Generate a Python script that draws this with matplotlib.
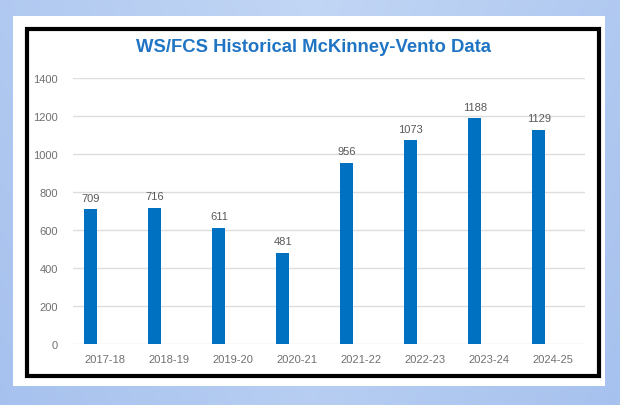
import numpy as np
import matplotlib
matplotlib.use("Agg")
import matplotlib.pyplot as plt
from matplotlib.patches import Rectangle

years = ["2017-18", "2018-19", "2019-20", "2020-21", "2021-22", "2022-23", "2023-24", "2024-25"]
students = [709, 716, 611, 481, 956, 1073, 1188, 1129]
y_ticks = [0, 200, 400, 600, 800, 1000, 1200, 1400]

plt.rcParams['font.family'] = ['Liberation Sans', 'DejaVu Sans']

fig = plt.figure(figsize=(6.2, 4.06), dpi=100)

# blue gradient background
bg = fig.add_axes([0, 0, 1, 1])
gx, gy = np.meshgrid(np.linspace(-1, 1, 200), np.linspace(0, 1, 120))
t = np.clip(1 - 0.55 * np.abs(gx) - 0.35 * gy, 0, 1)
c0 = np.array([0.64, 0.75, 0.93])
c1 = np.array([0.76, 0.84, 0.96])
img = c0 + (c1 - c0) * t[..., None]
bg.imshow(img, extent=[0, 1, 0, 1], aspect='auto', origin='upper')
bg.set_xlim(0, 1)
bg.set_ylim(0, 1)
bg.axis('off')

# white card and black frame
fig.patches.append(Rectangle((0.021, 0.047), 0.955, 0.911, transform=fig.transFigure,
                             facecolor='white', edgecolor='none', zorder=1))
fig.patches.append(Rectangle((0.0435, 0.0714), 0.9225, 0.8546, transform=fig.transFigure,
                             facecolor='white', edgecolor='black', linewidth=3, zorder=2))

ax = fig.add_axes([0.1177, 0.150, 0.8258, 0.655])
ax.set_zorder(3)
ax.patch.set_alpha(0)

x = np.arange(len(years)) + 0.5
bars = ax.bar(x - 0.22, students, width=0.2, color='#0070C0', zorder=3)
for xi, v in zip(x - 0.22, students):
    ax.text(xi, v + 35, str(v), ha='center', va='bottom', fontsize=8, color='#595959')

ax.set_xlim(0, len(years))
ax.set_ylim(0, 1400)
ax.set_yticks(y_ticks)
ax.set_xticks(x)
ax.set_xticklabels(years)
ax.grid(axis='y', color='#DDDDDD', linewidth=1, zorder=0)
ax.tick_params(axis='both', length=0, labelsize=8, labelcolor='#707070')
ax.tick_params(axis='y', pad=11)
ax.tick_params(axis='x', pad=7)
for s in ax.spines.values():
    s.set_visible(False)

fig.text(0.505, 0.884, "WS/FCS Historical McKinney-Vento Data", ha='center', va='center',
         fontsize=13.3, fontweight='bold', color='#1F74C4', zorder=4)

plt.savefig('out.png', dpi=100)
